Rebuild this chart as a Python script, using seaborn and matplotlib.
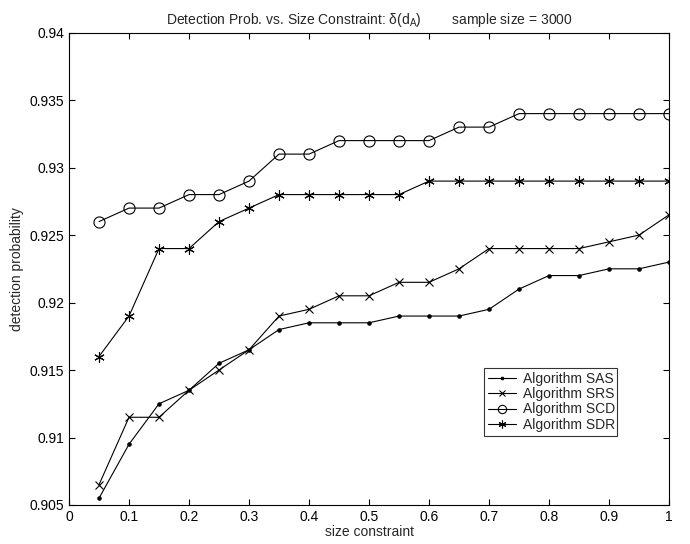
import numpy as np
import pandas as pd
import matplotlib
matplotlib.use('Agg')
import matplotlib.pyplot as plt
import seaborn as sns
from matplotlib.ticker import FormatStrFormatter

# size constraint values
size_constraint = [0.05, 0.1, 0.15, 0.2, 0.25, 0.3, 0.35, 0.4, 0.45, 0.5,
                   0.55, 0.6, 0.65, 0.7, 0.75, 0.8, 0.85, 0.9, 0.95, 1.0]

prob_sas = [0.9055, 0.9095, 0.9125, 0.9135, 0.9155, 0.9165, 0.918, 0.9185, 0.9185, 0.9185,
            0.919, 0.919, 0.919, 0.9195, 0.921, 0.922, 0.922, 0.9225, 0.9225, 0.923]
prob_srs = [0.9065, 0.9115, 0.9115, 0.9135, 0.915, 0.9165, 0.919, 0.9195, 0.9205, 0.9205,
            0.9215, 0.9215, 0.9225, 0.924, 0.924, 0.924, 0.924, 0.9245, 0.925, 0.9265]
prob_scd = [0.926, 0.927, 0.927, 0.928, 0.928, 0.929, 0.931, 0.931, 0.932, 0.932,
            0.932, 0.932, 0.933, 0.933, 0.934, 0.934, 0.934, 0.934, 0.934, 0.934]
prob_sdr = [0.916, 0.919, 0.924, 0.924, 0.926, 0.927, 0.928, 0.928, 0.928, 0.928,
            0.928, 0.929, 0.929, 0.929, 0.929, 0.929, 0.929, 0.929, 0.929, 0.929]

series_names = ['Algorithm SAS', 'Algorithm SRS', 'Algorithm SCD', 'Algorithm SDR']

sns.set_style('ticks')
plt.rcParams['font.family'] = ['Liberation Sans', 'DejaVu Sans']
plt.rcParams['mathtext.fontset'] = 'custom'
plt.rcParams['mathtext.rm'] = 'Liberation Sans'
plt.rcParams['mathtext.it'] = 'Liberation Sans'

df = pd.DataFrame({
    'size': size_constraint * 4,
    'prob': prob_sas + prob_srs + prob_scd + prob_sdr,
    'algo': np.repeat(series_names, len(size_constraint)),
})

marker_kw = {
    'Algorithm SAS': dict(marker='.', markersize=5),
    'Algorithm SRS': dict(marker='x', markersize=6, markeredgewidth=0.8),
    'Algorithm SCD': dict(marker='o', markersize=8, markerfacecolor='none',
                          markeredgewidth=0.8),
    'Algorithm SDR': dict(marker=(6, 2, 0), markersize=7.5, markeredgewidth=0.8),
}

fig, ax = plt.subplots(figsize=(6.9, 5.44), dpi=100)
fig.subplots_adjust(left=0.1, right=0.9696, top=0.94, bottom=0.0717)

for name in series_names:
    sns.lineplot(data=df[df['algo'] == name], x='size', y='prob',
                 color='black', lw=0.8, label=name, ax=ax,
                 markeredgecolor='black', **marker_kw[name])

ax.set_xlim(0, 1)
ax.set_ylim(0.905, 0.94)
ax.set_xticks(np.arange(0, 1.01, 0.1))
ax.set_yticks(np.arange(0.905, 0.9401, 0.005))
ax.xaxis.set_major_formatter(FormatStrFormatter('%g'))
ax.yaxis.set_major_formatter(FormatStrFormatter('%g'))
ax.tick_params(direction='in', top=True, right=True, labelsize=10,
               length=4, width=0.8, colors='black')
for sp in ax.spines.values():
    sp.set_linewidth(0.8)
    sp.set_color('black')

ax.set_xlabel('size constraint', fontsize=10, labelpad=1)
ax.set_ylabel('detection probability', fontsize=10, labelpad=4)
ax.set_title(r'Detection Prob. vs. Size Constraint: $\mathrm{\delta(d_A)}$'
             '        sample size = 3000', fontsize=10, pad=6)

leg = ax.legend(loc='lower left', bbox_to_anchor=(0.692, 0.146, 0.221, 0.135),
                mode='expand', fontsize=10, frameon=True, fancybox=False,
                borderaxespad=0, handlelength=2.0, labelspacing=0.1,
                borderpad=0.3, handletextpad=0.5, markerscale=0.75)
leg.get_frame().set_edgecolor('black')
leg.get_frame().set_linewidth(0.8)

fig.savefig('out.png', dpi=100)
